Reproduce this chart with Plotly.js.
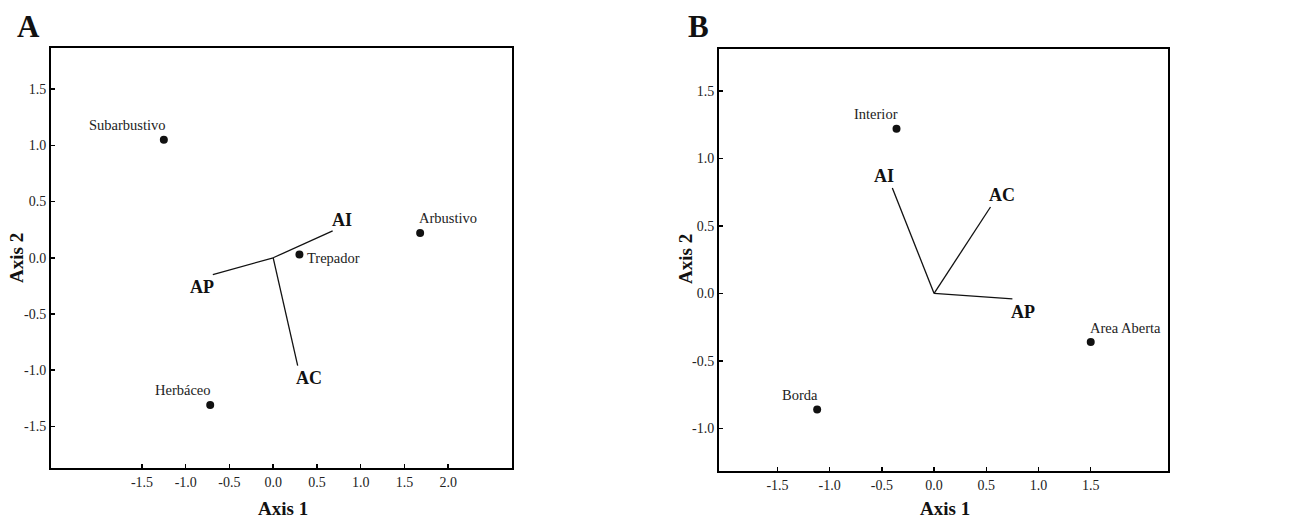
<!DOCTYPE html>
<html>
<head>
<meta charset="utf-8">
<script src="https://cdn.plot.ly/plotly-3.0.1.min.js"></script>
<style>html,body{margin:0;padding:0;background:#fff;}#chart{width:1304px;height:525px;}</style>
</head>
<body>
<div id="chart"></div>
<script>
// ---- Panel A data ----
const ptsA_names = ["Subarbustivo", "Arbustivo", "Trepador", "Herbáceo"];
const ptsA_x = [-1.25, 1.68, 0.30, -0.72];
const ptsA_y = [1.05, 0.22, 0.03, -1.31];
const vecA_names = ["AI", "AP", "AC"];
const vecA_x = [0.68, -0.69, 0.28];
const vecA_y = [0.24, -0.15, -0.96];

// ---- Panel B data ----
const ptsB_names = ["Interior", "Area Aberta", "Borda"];
const ptsB_x = [-0.36, 1.50, -1.12];
const ptsB_y = [1.22, -0.36, -0.86];
const vecB_names = ["AI", "AC", "AP"];
const vecB_x = [-0.40, 0.54, 0.75];
const vecB_y = [0.78, 0.64, -0.04];

// ---- Axis ticks ----
const ticksA_x = [-1.5, -1.0, -0.5, 0.0, 0.5, 1.0, 1.5, 2.0];
const ticksA_y = [-1.5, -1.0, -0.5, 0.0, 0.5, 1.0, 1.5];
const ticksB_x = [-1.5, -1.0, -0.5, 0.0, 0.5, 1.0, 1.5];
const ticksB_y = [-1.0, -0.5, 0.0, 0.5, 1.0, 1.5];

// ---- label placement styles (pixel offsets) ----
const labA_style = [["right", 4, 15], ["left", -3, 15], ["left", 6, -4], ["right", 3, 15]];
const labB_style = [["right", 3, 15], ["left", -3, 14], ["right", 3, 15]];
const vecA_shift = [[9, 11], [-11, -12], [11, -12]];
const vecB_shift = [[-8, 12], [12, 12], [11, -13]];

const FONT = "Liberation Serif, Times New Roman, serif";
const traces = [];
const annotations = [];
const fmt = v => v.toFixed(1);

function addPanel(names, xs, ys, lstyle, vnames, vx, vy, vshift, xa, ya) {
  vnames.forEach((n, i) => {
    traces.push({
      x: [0, vx[i]], y: [0, vy[i]], xaxis: xa, yaxis: ya,
      mode: "lines", line: {color: "#111", width: 1.3},
      showlegend: false, hoverinfo: "skip"
    });
    annotations.push({
      x: vx[i], y: vy[i], xref: xa, yref: ya, text: "<b>" + n + "</b>",
      showarrow: false, xshift: vshift[i][0], yshift: vshift[i][1],
      font: {family: FONT, size: 18, color: "#111"}
    });
  });
  traces.push({
    x: xs, y: ys, xaxis: xa, yaxis: ya,
    mode: "markers", marker: {color: "#111", size: 8},
    showlegend: false, hoverinfo: "skip"
  });
  names.forEach((n, i) => {
    annotations.push({
      x: xs[i], y: ys[i], xref: xa, yref: ya, text: n, showarrow: false,
      xanchor: lstyle[i][0], yanchor: "middle", xshift: lstyle[i][1], yshift: lstyle[i][2],
      font: {family: FONT, size: 14.5, color: "#222"}
    });
  });
}

addPanel(ptsA_names, ptsA_x, ptsA_y, labA_style, vecA_names, vecA_x, vecA_y, vecA_shift, "x", "y");
addPanel(ptsB_names, ptsB_x, ptsB_y, labB_style, vecB_names, vecB_x, vecB_y, vecB_shift, "x2", "y2");

const axBase = {
  showgrid: false, zeroline: false, showline: true, mirror: true,
  linecolor: "#000", linewidth: 2, ticks: "inside", ticklen: 4, tickwidth: 1.5,
  tickcolor: "#000", tickmode: "array",
  tickfont: {family: FONT, size: 14, color: "#222"}, fixedrange: true
};

function titleAnn(text, x, y, angle) {
  return {xref: "paper", yref: "paper", x: x, y: y, text: "<b>" + text + "</b>",
    showarrow: false, textangle: angle, xanchor: "center", yanchor: "middle",
    font: {family: FONT, size: 19, color: "#111"}};
}
annotations.push(titleAnn("Axis 1", 283/1304, 1 - 508/525, 0));
annotations.push(titleAnn("Axis 2", 16/1304, 1 - 258/525, -90));
annotations.push(titleAnn("Axis 1", 945/1304, 1 - 508/525, 0));
annotations.push(titleAnn("Axis 2", 685/1304, 1 - 259/525, -90));
annotations.push({xref: "paper", yref: "paper", x: 28/1304, y: 1 - 27/525, text: "<b>A</b>",
  showarrow: false, xanchor: "center", yanchor: "middle", font: {family: FONT, size: 31, color: "#111"}});
annotations.push({xref: "paper", yref: "paper", x: 698/1304, y: 1 - 27/525, text: "<b>B</b>",
  showarrow: false, xanchor: "center", yanchor: "middle", font: {family: FONT, size: 31, color: "#111"}});

const layout = {
  width: 1304, height: 525,
  margin: {l: 0, r: 0, t: 0, b: 0},
  paper_bgcolor: "#fff", plot_bgcolor: "#fff",
  xaxis: Object.assign({}, axBase, {domain: [51/1304, 512/1304], range: [-2.54, 2.73], tickvals: ticksA_x, ticktext: ticksA_x.map(fmt), anchor: "y"}),
  yaxis: Object.assign({}, axBase, {domain: [1 - 468/525, 1 - 48/525], range: [-1.87, 1.866], tickvals: ticksA_y, ticktext: ticksA_y.map(fmt), anchor: "x"}),
  xaxis2: Object.assign({}, axBase, {domain: [719/1304, 1168/1304], range: [-2.06, 2.24], tickvals: ticksB_x, ticktext: ticksB_x.map(fmt), anchor: "y2"}),
  yaxis2: Object.assign({}, axBase, {domain: [1 - 471/525, 1 - 49/525], range: [-1.315, 1.81], tickvals: ticksB_y, ticktext: ticksB_y.map(fmt), anchor: "x2"}),
  annotations: annotations
};

Plotly.newPlot("chart", traces, layout, {displayModeBar: false, staticPlot: true});
</script>
</body>
</html>
